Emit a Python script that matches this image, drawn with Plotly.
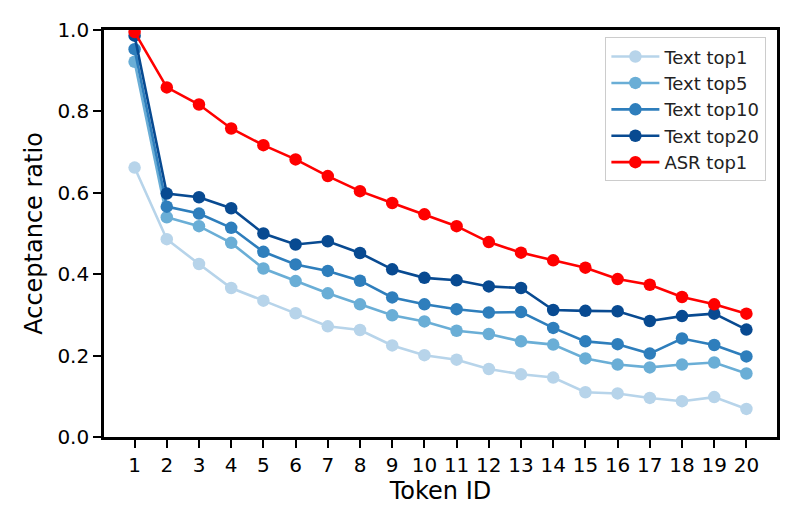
import plotly.graph_objects as go

token_ids = list(range(1, 21))

text_top1 = [0.662, 0.486, 0.425, 0.366, 0.335, 0.304, 0.272, 0.263, 0.225, 0.201,
             0.190, 0.167, 0.154, 0.146, 0.110, 0.107, 0.096, 0.088, 0.098, 0.069]
text_top5 = [0.922, 0.540, 0.518, 0.477, 0.414, 0.383, 0.353, 0.326, 0.299, 0.284,
             0.261, 0.253, 0.235, 0.227, 0.193, 0.178, 0.171, 0.178, 0.183, 0.156]
text_top10 = [0.953, 0.566, 0.549, 0.514, 0.455, 0.424, 0.408, 0.384, 0.343, 0.326,
              0.314, 0.306, 0.307, 0.268, 0.235, 0.228, 0.205, 0.242, 0.226, 0.198]
text_top20 = [0.986, 0.598, 0.589, 0.562, 0.500, 0.473, 0.481, 0.452, 0.412, 0.391,
              0.385, 0.370, 0.366, 0.312, 0.310, 0.309, 0.285, 0.297, 0.303, 0.264]
asr_top1 = [0.995, 0.859, 0.817, 0.758, 0.717, 0.682, 0.641, 0.604, 0.575, 0.547,
            0.518, 0.479, 0.453, 0.434, 0.416, 0.388, 0.374, 0.344, 0.326, 0.303]

series = [
    ("Text top1", text_top1, "#b7d4ea"),
    ("Text top5", text_top5, "#6aaed6"),
    ("Text top10", text_top10, "#2e7ebc"),
    ("Text top20", text_top20, "#084a91"),
    ("ASR top1", asr_top1, "#ff0000"),
]

fig = go.Figure()
for name, vals, color in series:
    fig.add_trace(go.Scatter(
        x=token_ids, y=vals, name=name, mode="lines+markers",
        line=dict(color=color, width=2.6),
        marker=dict(color=color, size=12.5),
    ))

font_family = "DejaVu Sans"
fig.update_layout(
    width=797, height=532,
    margin=dict(l=104, r=20, t=30, b=95),
    paper_bgcolor="white", plot_bgcolor="white",
    font=dict(family=font_family, color="black"),
    showlegend=True,
    legend=dict(
        x=0.745, y=0.982, xanchor="left", yanchor="top",
        bgcolor="rgba(255,255,255,0.8)", bordercolor="#cccccc", borderwidth=1,
        itemwidth=48,
        font=dict(size=18, family=font_family, color="#222222"),
    ),
)
fig.update_xaxes(
    range=[0.05, 20.95], tickmode="array", tickvals=token_ids,
    ticktext=[str(t) for t in token_ids],
    showgrid=False, zeroline=False,
    showline=True, linecolor="black", linewidth=2.6, mirror=True,
    ticks="outside", ticklen=8, tickwidth=2.4, tickcolor="black",
    tickfont=dict(size=20, family=font_family),
    title=dict(text="Token ID", font=dict(size=24, family=font_family), standoff=6),
)
fig.update_yaxes(
    range=[0, 1], tickmode="array", tickvals=[0, 0.2, 0.4, 0.6, 0.8, 1.0],
    ticktext=["0.0", "0.2", "0.4", "0.6", "0.8", "1.0"],
    showgrid=False, zeroline=False,
    showline=True, linecolor="black", linewidth=2.6, mirror=True,
    ticks="outside", ticklen=8, tickwidth=2.4, tickcolor="black",
    tickfont=dict(size=20, family=font_family),
    title=dict(text="Acceptance ratio", font=dict(size=24, family=font_family), standoff=8),
)

fig.write_html("out.html")
